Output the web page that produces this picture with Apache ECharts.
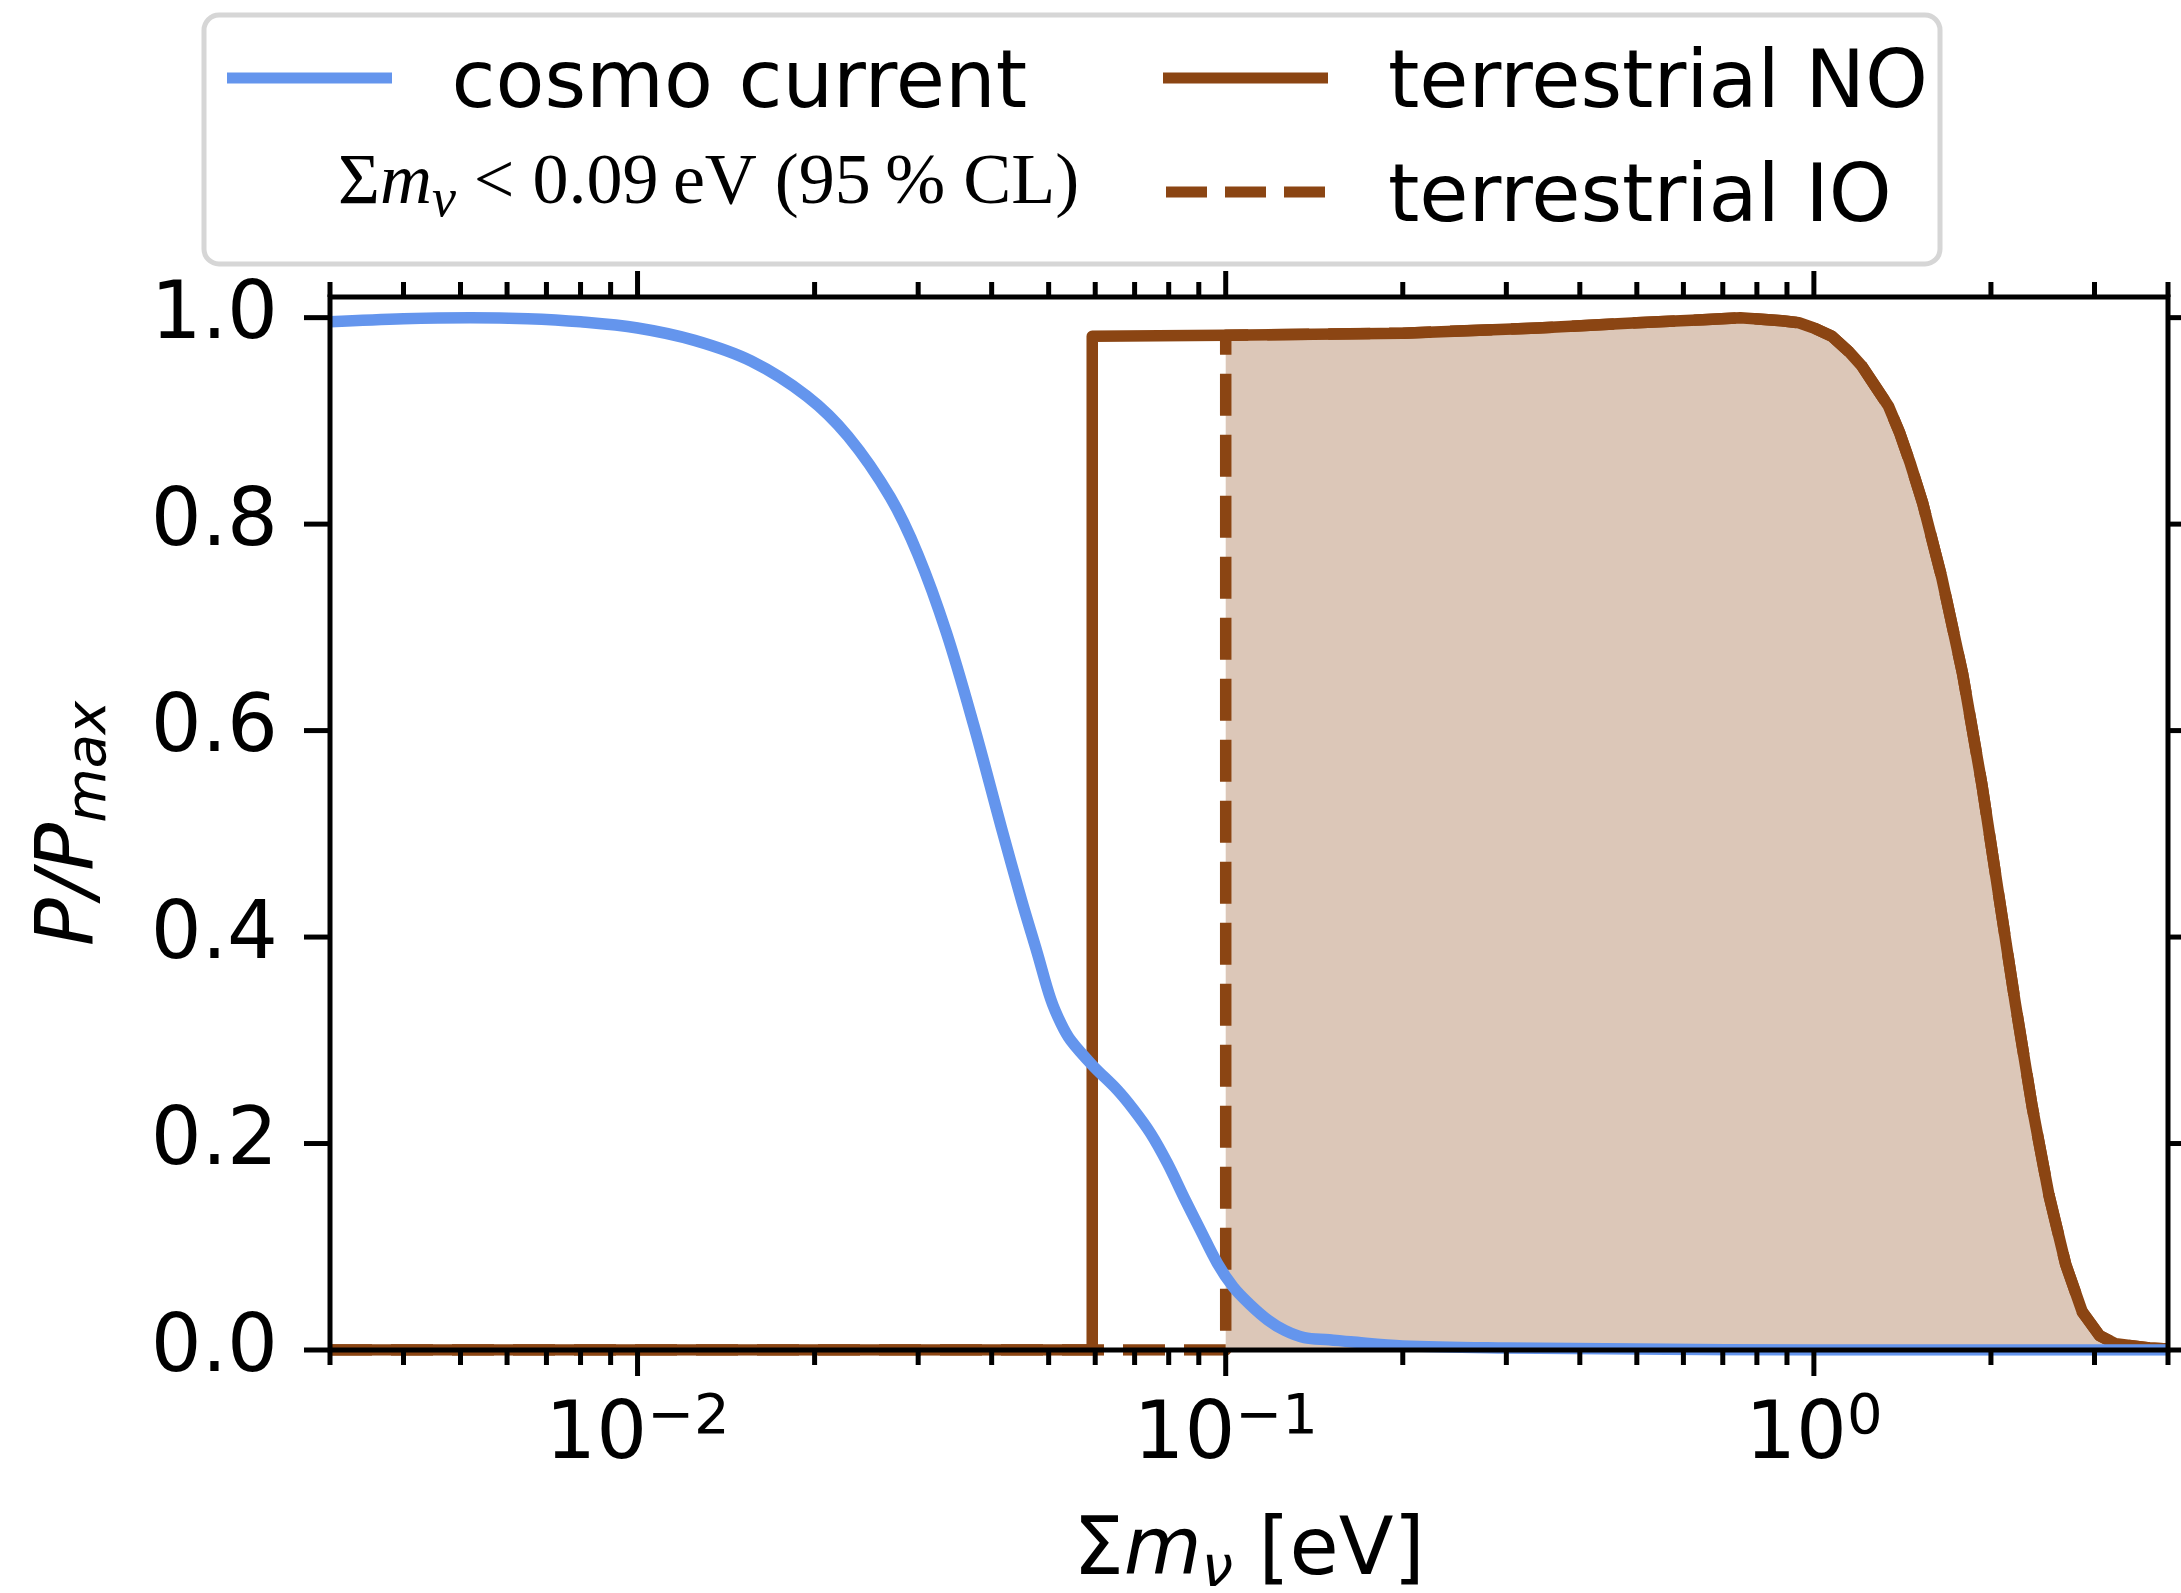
<!DOCTYPE html>
<html>
<head>
<meta charset="utf-8">
<script src="https://cdn.jsdelivr.net/npm/echarts@6/dist/echarts.min.js"></script>
<style>
html,body{margin:0;padding:0;background:#fff;}
#c{width:2181px;height:1593px;}
</style>
</head>
<body>
<div id="c"></div>
<script>
// ---------------- data ----------------
const seriesNames = ['cosmo current', 'terrestrial NO', 'terrestrial IO'];

const cosmoX = [0.003, 0.004, 0.0052, 0.0065, 0.008, 0.010, 0.0125, 0.0156, 0.0194, 0.0228, 0.0269, 0.030, 0.0335, 0.0373, 0.0416, 0.045, 0.0478, 0.0504, 0.0525, 0.0545, 0.0593, 0.0654, 0.0697, 0.0745, 0.0796, 0.0849, 0.0906, 0.0968, 0.103, 0.110, 0.118, 0.126, 0.136, 0.15, 0.163, 0.2, 0.3, 0.5, 1.0, 2.0, 4.0];
const cosmoY = [0.996, 0.999, 1.0, 0.999, 0.996, 0.990, 0.978, 0.958, 0.924, 0.885, 0.826, 0.770, 0.695, 0.605, 0.505, 0.435, 0.385, 0.340, 0.316, 0.300, 0.276, 0.252, 0.233, 0.210, 0.181, 0.148, 0.116, 0.084, 0.061, 0.044, 0.029, 0.019, 0.012, 0.010, 0.008, 0.004, 0.002, 0.001, 0.0, 0.0, 0.0];

const noX = [0.003, 0.0593, 0.0593, 0.1, 0.2, 0.339, 0.5, 0.647, 0.75, 0.882, 0.943, 1.0, 1.073, 1.147, 1.207, 1.27, 1.34, 1.40, 1.46, 1.53, 1.65, 1.79, 1.93, 2.06, 2.20, 2.35, 2.51, 2.68, 2.86, 3.06, 3.26, 3.72, 4.0];
const noY = [0, 0, 0.982, 0.983, 0.985, 0.990, 0.995, 0.998, 1.0, 0.997, 0.995, 0.990, 0.982, 0.967, 0.953, 0.934, 0.914, 0.888, 0.858, 0.821, 0.748, 0.655, 0.548, 0.442, 0.336, 0.236, 0.150, 0.083, 0.037, 0.014, 0.006, 0.002, 0.001];

const ioX = [0.003, 0.1, 0.1, 0.2, 0.339, 0.5, 0.647, 0.75, 0.882, 0.943, 1.0, 1.073, 1.147, 1.207, 1.27, 1.34, 1.40, 1.46, 1.53, 1.65, 1.79, 1.93, 2.06, 2.20, 2.35, 2.51, 2.68, 2.86, 3.06, 3.26, 3.72, 4.0];
const ioY = [0, 0, 0.983, 0.985, 0.990, 0.995, 0.998, 1.0, 0.997, 0.995, 0.990, 0.982, 0.967, 0.953, 0.934, 0.914, 0.888, 0.858, 0.821, 0.748, 0.655, 0.548, 0.442, 0.336, 0.236, 0.150, 0.083, 0.037, 0.014, 0.006, 0.002, 0.001];

const xMin = 0.003, xMax = 4;
const yMin = 0, yMax = 1.02, yStep = 0.2;
const xMajorTicks = [0.01, 0.1, 1];
const xMinorTicks = [0.003, 0.004, 0.005, 0.006, 0.007, 0.008, 0.009,
                     0.02, 0.03, 0.04, 0.05, 0.06, 0.07, 0.08, 0.09,
                     0.2, 0.3, 0.4, 0.5, 0.6, 0.7, 0.8, 0.9,
                     2, 3, 4];
const yTicks = [0, 0.2, 0.4, 0.6, 0.8, 1.0];
const noteParts = ['Σ', 'm', 'ν', ' < 0.09\u2009eV (95\u2009% CL)'];

// ---------------- styling ----------------
const FONT = 'DejaVu Sans';
const SERIF = 'Liberation Serif';
const BLUE = '#6495ED';
const BROWN = '#8B4513';
const LW = 11.5;
const AX_W = 5;
const MAJOR_LEN = 26, MINOR_LEN = 15;
// legend handle icons: visible bar in the top 11px of a 27px box (an empty sub-path fixes the box),
// so the label sits slightly below the handle, as in matplotlib
const ICON_SOLID = 'path://M0,0H165V11H0ZM0,27L1,27Z';
const ICON_DASH = 'path://M0,0H41V11H0ZM59,0H100V11H59ZM118,0H159V11H118ZM0,27L1,27Z';

const zip = (xs, ys) => xs.map((x, i) => [x, ys[i]]);

function xTickSeries(values, len) {
  return {
    type: 'custom', silent: true, clip: false, z: 6, animation: false,
    data: values.map(v => [v, yMin]),
    renderItem: function (params, api) {
      const cs = params.coordSys;
      const x = api.coord([api.value(0), api.value(1)])[0];
      const yb = cs.y + cs.height, yt = cs.y;
      const st = { stroke: '#000', lineWidth: AX_W };
      return { type: 'group', children: [
        { type: 'line', shape: { x1: x, y1: yb, x2: x, y2: yb + len }, style: st },
        { type: 'line', shape: { x1: x, y1: yt, x2: x, y2: yt - len }, style: st }
      ]};
    }
  };
}
function yTickSeries(values, len) {
  return {
    type: 'custom', silent: true, clip: false, z: 6, animation: false,
    data: values.map(v => [xMin, v]),
    renderItem: function (params, api) {
      const cs = params.coordSys;
      const y = api.coord([api.value(0), api.value(1)])[1];
      const xl = cs.x, xr = cs.x + cs.width;
      const st = { stroke: '#000', lineWidth: AX_W };
      return { type: 'group', children: [
        { type: 'line', shape: { x1: xl, y1: y, x2: xl - len, y2: y }, style: st },
        { type: 'line', shape: { x1: xr, y1: y, x2: xr + len, y2: y }, style: st }
      ]};
    }
  };
}

const chart = echarts.init(document.getElementById('c'), null, { renderer: 'canvas' });

const legendText = { fontFamily: FONT, fontSize: 80, lineHeight: 80, color: '#000' };
// subscript / superscript token styles (padding shifts the glyphs inside a fixed line)
const subStyle = { fontFamily: FONT, fontSize: 56, lineHeight: 36, fontStyle: 'italic', verticalAlign: 'middle', padding: [36, 0, 0, 0], color: '#000' };

const option = {
  animation: false,
  backgroundColor: '#fff',
  grid: {
    left: 330, top: 297, width: 1838, height: 1053,
    show: true, borderColor: '#000', borderWidth: AX_W, backgroundColor: 'transparent',
    containLabel: false, outerBoundsMode: 'none', z: 5
  },
  xAxis: {
    type: 'log', logBase: 10, min: xMin, max: xMax,
    axisLine: { show: false }, axisTick: { show: false }, splitLine: { show: false }, minorTick: { show: false },
    axisLabel: {
      show: true, margin: 47, showMinLabel: true, showMaxLabel: true,
      formatter: function (v) {
        const e = Math.log10(v), r = Math.round(e);
        if (Math.abs(e - r) > 1e-6) return '';
        return '{b|10}{s|' + (r < 0 ? '\u2212' : '') + Math.abs(r) + '}';
      },
      rich: {
        b: { fontFamily: FONT, fontSize: 80, lineHeight: 80, color: '#000' },
        s: { fontFamily: FONT, fontSize: 56, lineHeight: 40, verticalAlign: 'middle', padding: [0, 0, 38, 0], color: '#000' }
      }
    },
    name: '{a|Σ}{i|m}{s|ν}{a| [eV]}',
    nameLocation: 'middle', nameGap: 163,
    nameTextStyle: {
      rich: {
        a: { fontFamily: FONT, fontSize: 80, lineHeight: 80, color: '#000' },
        i: { fontFamily: FONT, fontSize: 80, lineHeight: 80, fontStyle: 'italic', color: '#000' },
        s: subStyle
      }
    }
  },
  yAxis: {
    type: 'value', min: yMin, max: yMax, interval: yStep,
    axisLine: { show: false }, axisTick: { show: false }, splitLine: { show: false },
    axisLabel: {
      margin: 52, color: '#000', fontFamily: FONT, fontSize: 80, showMaxLabel: true,
      formatter: function (v) {
        return yTicks.some(t => Math.abs(t - v) < 1e-9) ? v.toFixed(1) : '';
      }
    },
    name: '{i|P/P}{s|max}',
    nameLocation: 'middle', nameGap: 218,
    nameTextStyle: {
      rich: {
        i: { fontFamily: FONT, fontSize: 80, lineHeight: 80, fontStyle: 'italic', color: '#000' },
        s: subStyle
      }
    }
  },
  legend: [
    {
      data: [{ name: seriesNames[0], icon: ICON_SOLID }],
      orient: 'vertical', left: 227, top: 46, padding: 0,
      itemWidth: 168, itemHeight: 27, selectedMode: false,
      itemStyle: { borderWidth: 0 },
      textStyle: Object.assign({ padding: [0, 0, 0, 53] }, legendText)
    },
    {
      data: [
        { name: seriesNames[1], icon: ICON_SOLID },
        { name: seriesNames[2], icon: ICON_DASH }
      ],
      orient: 'vertical', left: 1163, top: 46, padding: 0, itemGap: 34,
      itemWidth: 165, itemHeight: 27, selectedMode: false,
      itemStyle: { borderWidth: 0 },
      textStyle: Object.assign({ padding: [0, 0, 0, 55] }, legendText)
    }
  ],
  graphic: [
    {
      type: 'rect', z: -10, silent: true,
      shape: { x: 204, y: 15, width: 1736, height: 249, r: 15 },
      style: { fill: '#fff', stroke: '#d6d6d6', lineWidth: 5 }
    },
    {
      type: 'text', z: 10, silent: true, x: 338, y: 184,
      style: {
        text: '{n|' + noteParts[0] + '}{i|' + noteParts[1] + '}{s|' + noteParts[2] + '}{n|' + noteParts[3] + '}',
        verticalAlign: 'middle', align: 'left',
        rich: {
          n: { fontFamily: SERIF, fontSize: 72, lineHeight: 72, fill: '#000', color: '#000' },
          i: { fontFamily: SERIF, fontSize: 72, lineHeight: 72, fontStyle: 'italic', fill: '#000', color: '#000' },
          s: { fontFamily: SERIF, fontSize: 54, lineHeight: 20, fontStyle: 'italic', verticalAlign: 'middle', padding: [36, 0, 0, 0], fill: '#000', color: '#000' }
        }
      }
    }
  ],
  series: [
    {
      name: seriesNames[2], type: 'line', data: zip(ioX, ioY),
      symbol: 'none', showSymbol: false, smooth: false, z: 2,
      color: BROWN,
      lineStyle: { color: BROWN, width: LW, type: [42, 19], cap: 'butt', join: 'round' },
      areaStyle: { color: BROWN, opacity: 0.3 }
    },
    {
      name: seriesNames[1], type: 'line', data: zip(noX, noY),
      symbol: 'none', showSymbol: false, smooth: false, z: 3,
      color: BROWN,
      lineStyle: { color: BROWN, width: LW, cap: 'butt', join: 'round' }
    },
    {
      name: seriesNames[0], type: 'line', data: zip(cosmoX, cosmoY),
      symbol: 'none', showSymbol: false, smooth: 0.35, z: 4,
      color: BLUE,
      lineStyle: { color: BLUE, width: LW, cap: 'butt', join: 'round' }
    },
    xTickSeries(xMajorTicks, MAJOR_LEN),
    xTickSeries(xMinorTicks, MINOR_LEN),
    yTickSeries(yTicks, MAJOR_LEN)
  ]
};
chart.setOption(option);
</script>
</body>
</html>
